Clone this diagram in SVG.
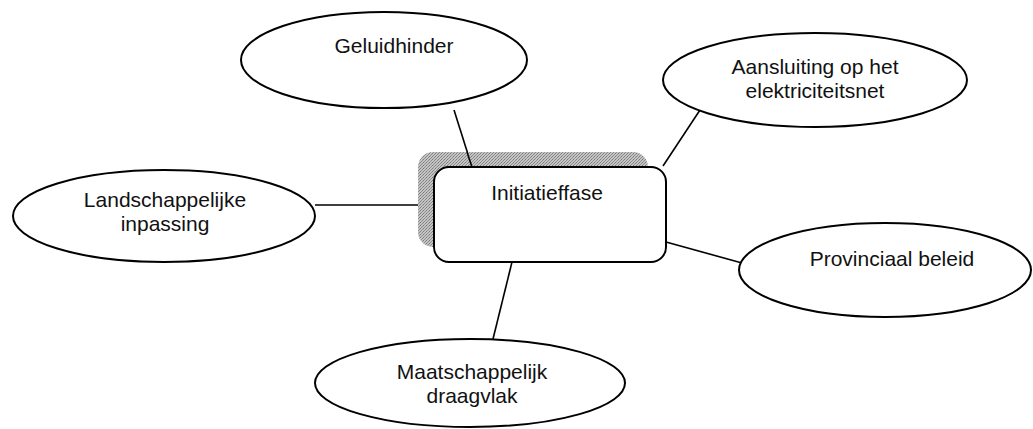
<svg xmlns="http://www.w3.org/2000/svg" width="1033" height="429" viewBox="0 0 1033 429">
  <style>
    .bubble { fill: #ffffff; stroke: #000000; stroke-width: 2; }
    .box { fill: #ffffff; stroke: #000000; stroke-width: 2; }
    .label { font-family: "Liberation Sans", Arial, sans-serif; font-size: 21px; fill: #111111; text-anchor: middle; }
    .link { stroke: #000000; stroke-width: 1.6; fill: none; }
  </style>
  <defs>
    <!-- halftone-style grey fill for the drop shadow -->
    <pattern id="stipple" width="3" height="3" patternUnits="userSpaceOnUse">
      <rect width="3" height="3" fill="#c4c4c4"/>
      <rect x="0" y="0" width="1" height="1" fill="#7a7a7a"/>
      <rect x="2" y="1" width="1" height="1" fill="#8a8a8a"/>
      <rect x="1" y="2" width="1" height="1" fill="#909090"/>
    </pattern>
  </defs>

  <rect width="1033" height="429" fill="#ffffff"/>

  <!-- connectors between the central phase and the surrounding topics -->
  <g id="connectors">
    <line class="link" x1="454" y1="110" x2="472" y2="167"/>
    <line class="link" x1="700" y1="110" x2="663" y2="166"/>
    <line class="link" x1="315" y1="205" x2="434" y2="205"/>
    <line class="link" x1="666" y1="242" x2="742" y2="263"/>
    <line class="link" x1="512" y1="262" x2="493" y2="339"/>
  </g>

  <g id="initiatieffase">
    <rect x="418" y="152" width="230" height="95" rx="15" ry="15" fill="url(#stipple)"/>
    <line class="link" x1="467" y1="152" x2="472" y2="167"/>
    <rect class="box" x="434" y="167" width="232" height="95" rx="15" ry="15"/>
    <text class="label" x="547" y="200">Initiatieffase</text>
  </g>

  <g id="geluidhinder">
    <ellipse class="bubble" cx="384" cy="60" rx="143" ry="48"/>
    <text class="label" x="394" y="53">Geluidhinder</text>
  </g>

  <g id="aansluiting">
    <ellipse class="bubble" cx="815" cy="80" rx="152" ry="47"/>
    <text class="label" x="815" y="74">Aansluiting op het</text>
    <text class="label" x="815" y="98">elektriciteitsnet</text>
  </g>

  <g id="landschappelijke-inpassing">
    <ellipse class="bubble" cx="164" cy="216" rx="151" ry="46"/>
    <text class="label" x="165" y="207">Landschappelijke</text>
    <text class="label" x="165" y="231">inpassing</text>
  </g>

  <g id="provinciaal-beleid">
    <ellipse class="bubble" cx="885" cy="270" rx="146" ry="47"/>
    <text class="label" x="892" y="266">Provinciaal beleid</text>
  </g>

  <g id="maatschappelijk-draagvlak">
    <ellipse class="bubble" cx="470" cy="383" rx="155" ry="44"/>
    <text class="label" x="472" y="379">Maatschappelijk</text>
    <text class="label" x="472" y="403">draagvlak</text>
  </g>
</svg>
